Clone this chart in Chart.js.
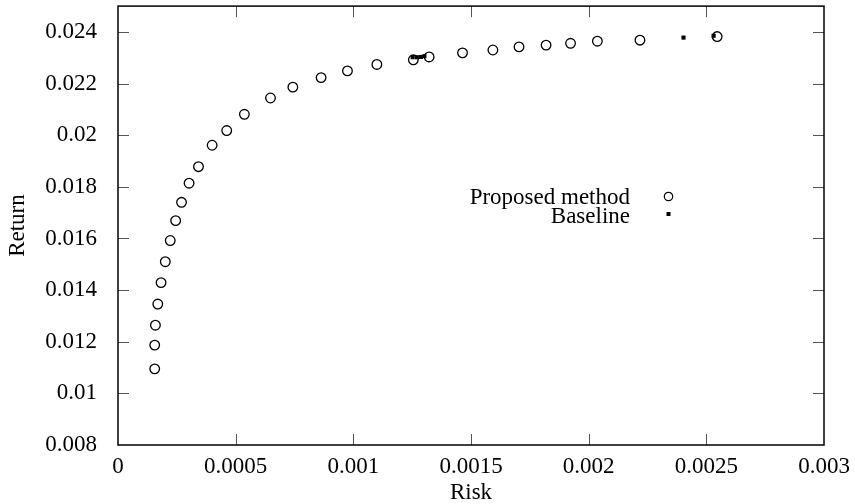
<!DOCTYPE html>
<html><head><meta charset="utf-8">
<script src="https://cdn.jsdelivr.net/npm/chart.js@4/dist/chart.umd.min.js"></script>
<style>html,body{margin:0;padding:0;background:#fff}</style>
</head><body>
<canvas id="c" width="855" height="504" style="width:855px;height:504px;display:block"></canvas>
<script>
const proposedRisk = [0.000156,0.000156,0.000159,0.000169,0.000183,0.000201,0.000222,0.000245,0.000270,0.000302,0.000342,0.000400,0.000462,0.000537,0.000648,0.000743,0.000863,0.000975,0.001100,0.001255,0.001322,0.001464,0.001593,0.001704,0.001819,0.001923,0.002037,0.002218,0.002546];
const proposedReturn = [0.01095,0.01187,0.01264,0.01346,0.01429,0.01510,0.01592,0.01669,0.01740,0.01814,0.01878,0.01961,0.02018,0.02081,0.02144,0.02186,0.02223,0.02249,0.02274,0.02292,0.02303,0.02319,0.02330,0.02342,0.02349,0.02356,0.02364,0.02368,0.02382];
const baselineRisk = [0.001252,0.001270,0.001287,0.001302,0.002403,0.002531];
const baselineReturn = [0.02302,0.02302,0.02303,0.02306,0.02378,0.02385];
const seriesNames = ['Proposed method','Baseline'];
const xTicks = [0,0.0005,0.001,0.0015,0.002,0.0025,0.003];
const xTickLabels = ['0','0.0005','0.001','0.0015','0.002','0.0025','0.003'];
const yTicks = [0.008,0.010,0.012,0.014,0.016,0.018,0.020,0.022,0.024];
const yTickLabels = ['0.008','0.01','0.012','0.014','0.016','0.018','0.02','0.022','0.024'];
const xTitle = 'Risk';
const yTitle = 'Return';

const FONT = {family:"'Liberation Serif', 'Times New Roman', serif", size:23};
const TITLE_FONT = {family:"'Liberation Serif', 'Times New Roman', serif", size:23, lineHeight:1};

function pts(xs, ys){ return xs.map((x,i)=>({x:x, y:ys[i]})); }

const framePlugin = {
  id:'frame',
  beforeDatasetsDraw(chart){
    const {ctx, chartArea:a, scales:{x, y}} = chart;
    ctx.save();
    ctx.strokeStyle = '#555';
    ctx.lineWidth = 1;
    const L = 11;
    ctx.beginPath();
    xTicks.forEach(v=>{
      const px = Math.round(x.getPixelForValue(v)) + 0.5;
      if (px > a.left + 1 && px < a.right - 1) {
        ctx.moveTo(px, a.bottom); ctx.lineTo(px, a.bottom - L);
        ctx.moveTo(px, a.top); ctx.lineTo(px, a.top + L);
      }
    });
    yTicks.forEach(v=>{
      const py = Math.round(y.getPixelForValue(v)) + 0.5;
      if (py > a.top + 1 && py < a.bottom - 1) {
        ctx.moveTo(a.left, py); ctx.lineTo(a.left + L, py);
        ctx.moveTo(a.right, py); ctx.lineTo(a.right - L, py);
      }
    });
    ctx.stroke();
    ctx.strokeStyle = '#000';
    ctx.lineWidth = 1.5;
    ctx.strokeRect(a.left, a.top, a.right - a.left, a.bottom - a.top);
    ctx.restore();
  },
  afterDraw(chart){
    const {ctx} = chart;
    ctx.save();
    ctx.font = FONT.size + 'px ' + FONT.family;
    ctx.fillStyle = '#000';
    ctx.textAlign = 'right';
    ctx.textBaseline = 'alphabetic';
    ctx.fillText(seriesNames[0], 630, 204);
    ctx.fillText(seriesNames[1], 630, 222.5);
    ctx.strokeStyle = '#000';
    ctx.lineWidth = 1.2;
    ctx.beginPath();
    ctx.arc(668.5, 196.5, 4.2, 0, Math.PI*2);
    ctx.stroke();
    ctx.fillRect(666.5, 212, 4, 4);
    ctx.restore();
  }
};

new Chart(document.getElementById('c'), {
  type:'scatter',
  data:{
    datasets:[
      {label:seriesNames[1], data:pts(baselineRisk, baselineReturn), order:0,
       pointStyle:'rect', pointRadius:2.9, pointHoverRadius:2.9,
       backgroundColor:'#000', borderColor:'#000', borderWidth:0},
      {label:seriesNames[0], data:pts(proposedRisk, proposedReturn), order:1,
       pointStyle:'circle', pointRadius:4.8, pointHoverRadius:4.8,
       backgroundColor:'rgba(0,0,0,0)', borderColor:'#000', borderWidth:1.3}
    ]
  },
  options:{
    responsive:false,
    devicePixelRatio:1,
    animation:false,
    events:[],
    layout:{padding:{top:6, right:31, left:0, bottom:0}},
    plugins:{legend:{display:false}, tooltip:{enabled:false}},
    scales:{
      x:{
        type:'linear', min:0, max:0.003,
        afterBuildTicks(s){ s.ticks = xTicks.map(v=>({value:v})); },
        afterFit(s){ s.height = 59; s.paddingLeft = 0; s.paddingRight = 0; },
        grid:{display:false, drawTicks:false},
        border:{display:false},
        ticks:{font:FONT, color:'#000', padding:8, maxRotation:0, autoSkip:false,
          callback:(v,i)=>xTickLabels[i]},
        title:{display:true, text:xTitle, font:TITLE_FONT, color:'#000', padding:{top:0,bottom:0}}
      },
      y:{
        type:'linear', min:0.008, max:0.025,
        afterBuildTicks(s){ s.ticks = yTicks.map(v=>({value:v})); },
        afterFit(s){ s.width = 118; s.paddingTop = 0; s.paddingBottom = 0; },
        grid:{display:false, drawTicks:false},
        border:{display:false},
        ticks:{font:FONT, color:'#000', padding:21, autoSkip:false,
          callback:(v,i)=>yTickLabels[i]},
        title:{display:true, text:yTitle, font:TITLE_FONT, color:'#000', padding:{top:6,bottom:0}}
      }
    }
  },
  plugins:[framePlugin]
});
</script>
</body></html>
